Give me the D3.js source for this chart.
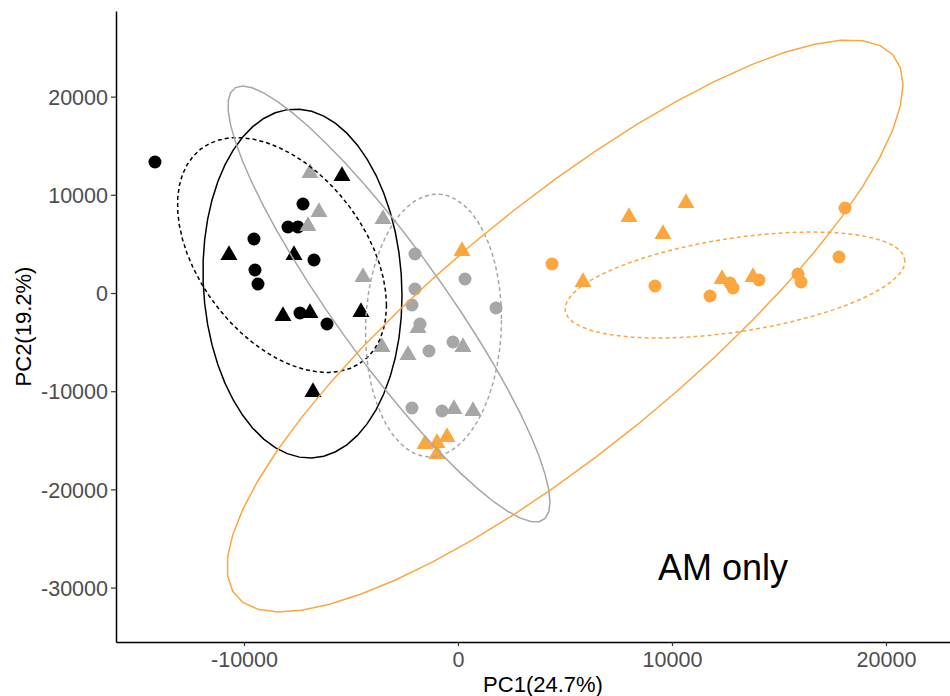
<!DOCTYPE html>
<html>
<head>
<meta charset="utf-8">
<script src="https://cdn.jsdelivr.net/npm/d3@7"></script>
<style>
  body { margin: 0; background: #fff; }
  svg { display: block; font-family: "Liberation Sans", Arial, sans-serif; }
  .tick text { fill: #4d4d4d; font-size: 21.5px; }
  .tick line { stroke: #333; stroke-width: 1.2; }
  .domain { stroke: #000; stroke-width: 1.5; }
</style>
</head>
<body>
<div class="plot-item"></div>
<script>
// PC scores, [PC1, PC2]
var blackCircles = [[-14159, 13340], [-7243, 9063], [-7944, 6721], [-7477, 6721], [-9533, 5499],
  [-6729, 3360], [-9486, 2342], [-9346, 916], [-7383, -2037], [-6121, -3157]];
var blackTriangles = [[-5421, 11914], [-10701, 3870], [-7664, 3870], [-8178, -2342],
  [-6916, -2037], [-4533, -1935], [-6776, -10081]];
var grayCircles = [[-2009, 3971], [327, 1426], [-2009, 407], [-2150, -1222], [1776, -1527],
  [-1776, -3157], [-1355, -5906], [-234, -4990], [-2150, -11711], [-748, -12016]];
var grayTriangles = [[-6916, 12220], [-6495, 8248], [-7009, 6823], [-3505, 7536], [-4439, 1629],
  [-3551, -5499], [-1869, -3564], [-2336, -6314], [234, -5499], [-187, -11813], [701, -12016]];
var orangeCircles = [[4393, 2953], [9206, 713], [11776, -305], [12710, 1018], [12850, 509],
  [14065, 1324], [15888, 1935], [16028, 1120], [17804, 3666], [18084, 8656]];
var orangeTriangles = [[187, 4277], [-1542, -15377], [-981, -15275], [-514, -14664], [-981, -16395],
  [7991, 7739], [10654, 9165], [9579, 6008], [5841, 1120], [12336, 1426], [13785, 1629]];

// confidence ellipses: centre, half width, half height, coupling of the two
var ellipseCx = [-8224, -7266, -1145, -3224, 12944, 5000];
var ellipseCy = [3870, 967, -3310, -1120, 815, -3360];
var ellipseRx = [4883, 4650, 3178, 7523, 7944, 15794];
var ellipseRy = [11965, 17770, 13391, 22200, 5400, 29124];
var ellipseRho = [-0.43, -0.07, 0.05, -0.91, 0.45, 0.843];

var xTicks = [-10000, 0, 10000, 20000];
var yTicks = [-30000, -20000, -10000, 0, 10000, 20000];

var w = 950, h = 696;
var colors = { black: "#000000", gray: "#a6a6a6", orange: "#fba63f" };

var svg = d3.select(".plot-item").append("svg")
  .attr("width", w)
  .attr("height", h);

var x = d3.scaleLinear().domain([-15980, 23925]).range([116, 970]);
var y = d3.scaleLinear().domain([-35540, 28720]).range([642, 11]);

var plain = function(d) { return d.toFixed(0); };

var xAxisG = svg.append("g")
  .attr("transform", "translate(0,642)")
  .call(d3.axisBottom(x).tickValues(xTicks).tickSize(4).tickPadding(5).tickSizeOuter(0).tickFormat(plain));
var yAxisG = svg.append("g")
  .attr("transform", "translate(116,0)")
  .call(d3.axisLeft(y).tickValues(yTicks).tickSize(5).tickPadding(3).tickSizeOuter(0).tickFormat(plain));

yAxisG.selectAll(".tick text").attr("dy", "0.36em");
xAxisG.selectAll(".tick text").attr("dy", "0.76em");

svg.append("text")
  .attr("x", 543).attr("y", 692)
  .attr("text-anchor", "middle")
  .style("font-size", "22px")
  .text("PC1(24.7%)");
svg.append("text")
  .attr("transform", "translate(31,326.5) rotate(-90)")
  .attr("text-anchor", "middle")
  .style("font-size", "22px")
  .text("PC2(19.2%)");

var pointSets = [
  { data: blackCircles, color: colors.black, shape: "circle" },
  { data: blackTriangles, color: colors.black, shape: "triangle" },
  { data: grayCircles, color: colors.gray, shape: "circle" },
  { data: grayTriangles, color: colors.gray, shape: "triangle" },
  { data: orangeCircles, color: colors.orange, shape: "circle" },
  { data: orangeTriangles, color: colors.orange, shape: "triangle" }
];

var tri = d3.symbol().type(d3.symbolTriangle).size(125);

pointSets.forEach(function(set) {
  var g = svg.append("g").style("fill", set.color);
  if (set.shape === "circle") {
    g.selectAll("circle").data(set.data).enter().append("circle")
      .attr("cx", function(d) { return x(d[0]); })
      .attr("cy", function(d) { return y(d[1]); })
      .attr("r", 6.5);
  } else {
    g.selectAll("path").data(set.data).enter().append("path")
      .attr("d", tri)
      .attr("transform", function(d) { return "translate(" + x(d[0]) + "," + y(d[1]) + ")"; });
  }
});

// order: black dashed, black solid, gray dashed, gray solid, orange dashed, orange solid
var ellipseColor = [colors.black, colors.black, colors.gray, colors.gray, colors.orange, colors.orange];
var ellipseDash = ["4,3", null, "4,3", null, "4,3", null];

var line = d3.line()
  .x(function(d) { return x(d[0]); })
  .y(function(d) { return y(d[1]); });

ellipseCx.forEach(function(cx, i) {
  var pts = d3.range(52).map(function(k) {
    var t = 2 * Math.PI * k / 51;
    var r = ellipseRho[i];
    return [cx + ellipseRx[i] * Math.cos(t),
            ellipseCy[i] + ellipseRy[i] * (r * Math.cos(t) + Math.sqrt(1 - r * r) * Math.sin(t))];
  });
  svg.append("path")
    .attr("d", line(pts))
    .attr("fill", "none")
    .attr("stroke", ellipseColor[i])
    .attr("stroke-width", 1.5)
    .attr("stroke-dasharray", ellipseDash[i]);
});

svg.append("text")
  .attr("x", 658).attr("y", 580)
  .style("font-size", "36px")
  .text("AM only");
</script>
</body>
</html>
